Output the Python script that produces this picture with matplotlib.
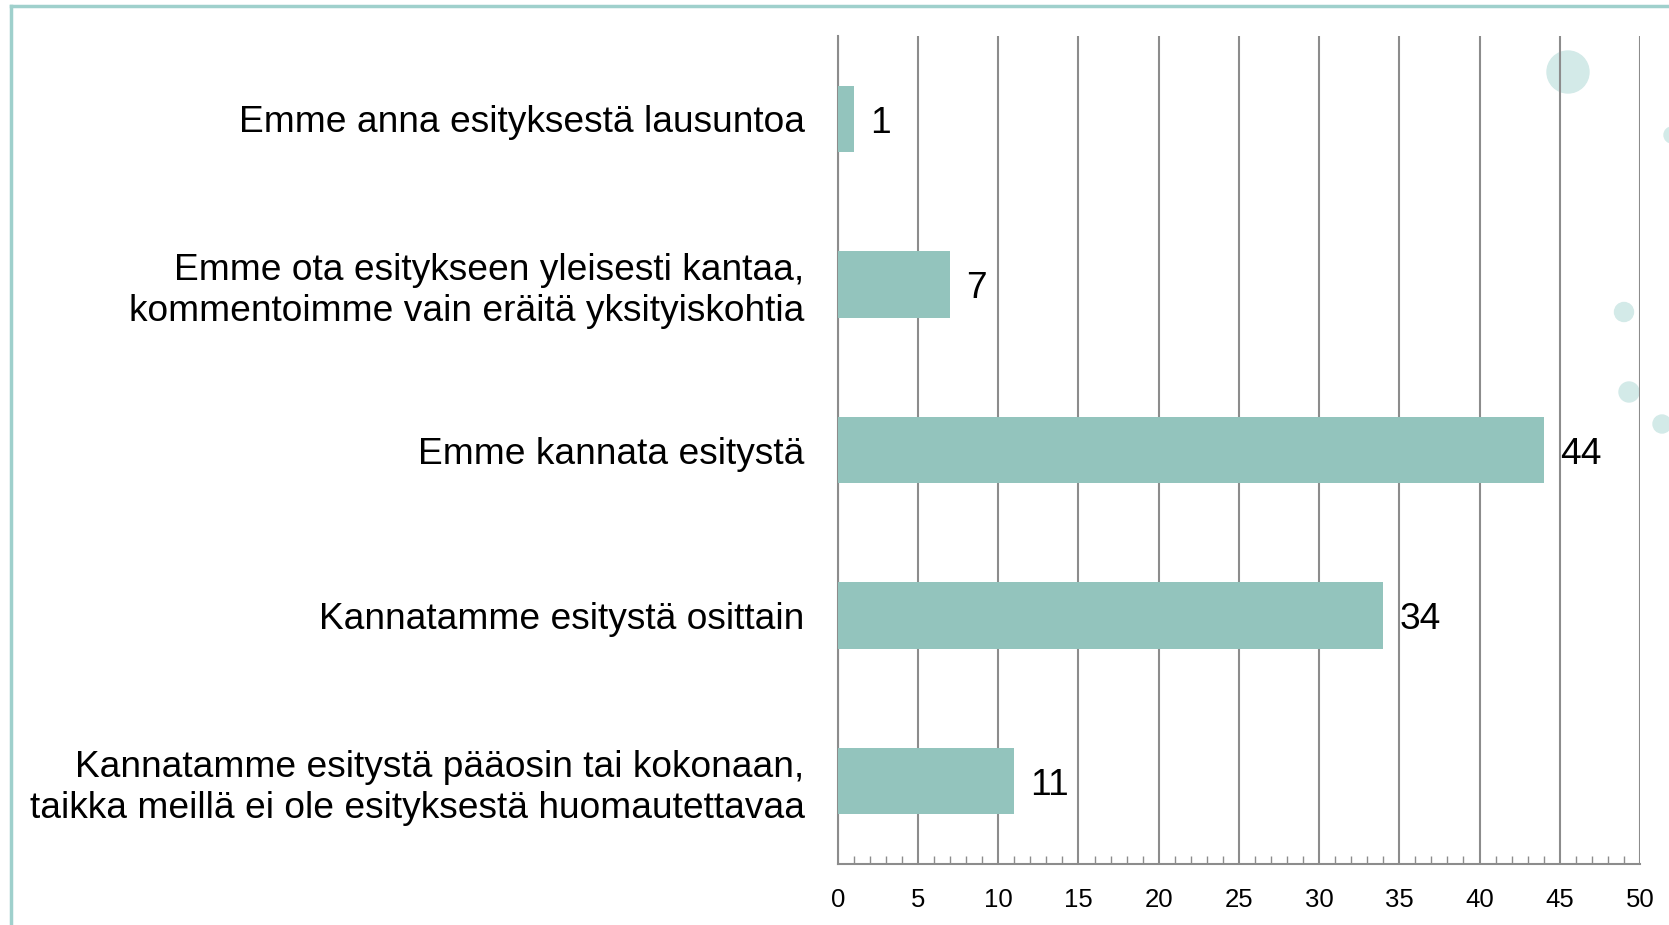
"""Lausuntojen kanta esitykseen: vaakapylväskuvio."""

import matplotlib

matplotlib.use("Agg")

import matplotlib.pyplot as plt
from matplotlib.lines import Line2D
from matplotlib.patches import Circle
from matplotlib.ticker import MultipleLocator

plt.rcParams["font.family"] = ["Liberation Sans", "DejaVu Sans"]

categories = [
    "Emme anna esityksestä lausuntoa",
    "Emme ota esitykseen yleisesti kantaa,\nkommentoimme vain eräitä yksityiskohtia",
    "Emme kannata esitystä",
    "Kannatamme esitystä osittain",
    "Kannatamme esitystä pääosin tai kokonaan,\ntaikka meillä ei ole esityksestä huomautettavaa",
]
values = [1, 7, 44, 34, 11]

BAR = "#93c4bd"
GRID = "#8c8c8c"
FRAME = "#9fd0cc"
DOT = "#d3eae8"


def main() -> None:
    W, H = 1669, 925
    fig = plt.figure(figsize=(W / 100, H / 100), dpi=100)

    # decorative dots, drawn behind the (transparent) axes
    dots = [(1568, 72, 21), (1624, 312, 9.5), (1629, 392, 10), (1662, 424, 9), (1672, 135, 8)]
    for cx, cy, r in dots:
        fig.add_artist(Circle((cx / 100, (H - cy) / 100), r / 100, color=DOT,
                              transform=fig.dpi_scale_trans, zorder=0))

    ax = fig.add_axes([0.502, 0.066, 0.4806, 0.895])
    ax.patch.set_alpha(0)
    ax.set_zorder(1)

    ypos = list(range(len(categories)))
    ax.barh(ypos, values, height=0.4, color=BAR, zorder=3)
    for y, v in zip(ypos, values):
        ax.annotate(str(v), (v + 1.0, y), xytext=(0, -3), textcoords="offset points",
                    va="center", ha="left", fontsize=26.7, zorder=4)

    ax.set_ylim(len(categories) - 0.5, -0.5)
    ax.set_xlim(0, 50)
    ax.set_yticks(ypos)
    ax.set_yticklabels(categories, fontsize=26.7, linespacing=1.2)
    ax.tick_params(axis="y", length=0, pad=24)

    ax.xaxis.set_major_locator(MultipleLocator(5))
    ax.xaxis.set_minor_locator(MultipleLocator(1))
    ax.tick_params(axis="x", which="major", length=0, pad=17, labelsize=18.5)
    ax.tick_params(axis="x", which="minor", direction="in", length=6, width=1, color=GRID)
    ax.grid(True, axis="x", which="major", color=GRID, linewidth=1.5, zorder=1)

    for side in ("top", "right"):
        ax.spines[side].set_visible(False)
    for side in ("left", "bottom"):
        ax.spines[side].set_color(GRID)
        ax.spines[side].set_linewidth(1.5)

    # light teal frame of the slide
    fig.add_artist(Line2D([11 / W, 1.0], [1 - 6 / H, 1 - 6 / H], color=FRAME, lw=2.5,
                          transform=fig.transFigure))
    fig.add_artist(Line2D([11 / W, 11 / W], [0.0, 1 - 6 / H], color=FRAME, lw=2.5,
                          transform=fig.transFigure))

    fig.savefig("out.png", dpi=100)
    plt.close(fig)


if __name__ == "__main__":
    main()
